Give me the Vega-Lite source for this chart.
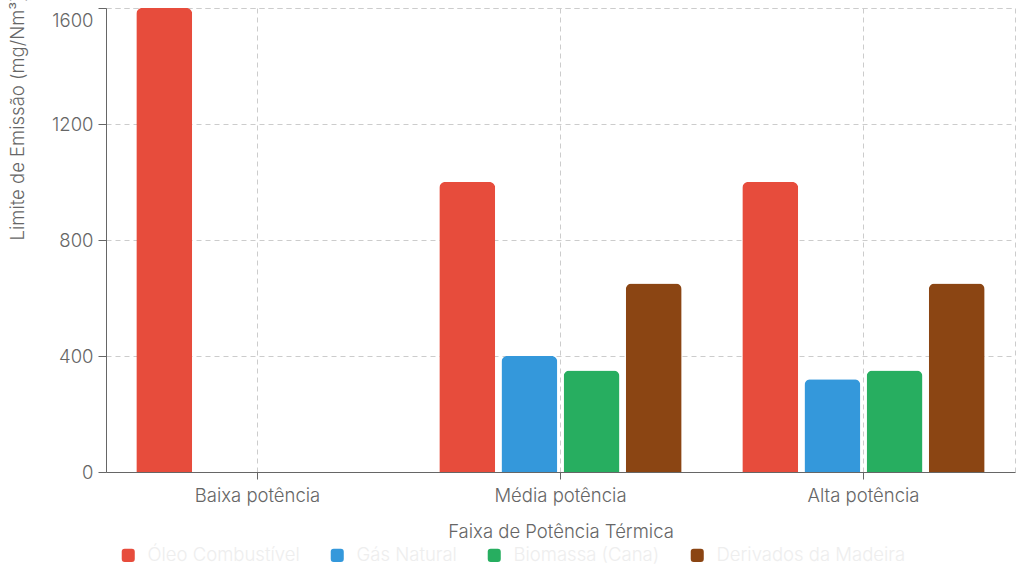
{
  "$schema": "https://vega.github.io/schema/vega-lite/v6.json",
  "autosize": {"type": "none"},
  "padding": {"left": 106, "top": 8, "right": 9, "bottom": 104},
  "width": 909,
  "height": 464,
  "data": {
    "values": [
      {"faixa": "Baixa potência", "combustivel": "Óleo Combustível", "limite": 1600},
      {"faixa": "Média potência", "combustivel": "Óleo Combustível", "limite": 1000},
      {"faixa": "Média potência", "combustivel": "Gás Natural", "limite": 400},
      {"faixa": "Média potência", "combustivel": "Biomassa (Cana)", "limite": 350},
      {"faixa": "Média potência", "combustivel": "Derivados da Madeira", "limite": 650},
      {"faixa": "Alta potência", "combustivel": "Óleo Combustível", "limite": 1000},
      {"faixa": "Alta potência", "combustivel": "Gás Natural", "limite": 320},
      {"faixa": "Alta potência", "combustivel": "Biomassa (Cana)", "limite": 350},
      {"faixa": "Alta potência", "combustivel": "Derivados da Madeira", "limite": 650}
    ]
  },
  "mark": {"type": "bar", "cornerRadiusEnd": 6},
  "encoding": {
    "x": {
      "field": "faixa",
      "type": "nominal",
      "sort": ["Baixa potência", "Média potência", "Alta potência"],
      "scale": {"paddingInner": 0.2, "paddingOuter": 0.1},
      "title": "Faixa de Potência Térmica",
      "axis": {
        "labelAngle": 0,
        "grid": true,
        "bandPosition": 0.5,
        "labelPadding": 7,
        "titlePadding": 18,
        "tickSize": 7
      }
    },
    "xOffset": {
      "field": "combustivel",
      "type": "nominal",
      "sort": ["Óleo Combustível", "Gás Natural", "Biomassa (Cana)", "Derivados da Madeira"],
      "scale": {"paddingInner": 0.1, "paddingOuter": 0}
    },
    "y": {
      "field": "limite",
      "type": "quantitative",
      "scale": {"domain": [0, 1600], "nice": false},
      "title": "Limite de Emissão (mg/Nm³)",
      "axis": {
        "values": [0, 400, 800, 1200, 1600],
        "format": "d",
        "tickSize": 8,
        "labelPadding": 5,
        "labelBaseline": {"condition": {"test": "datum.value >= 1600", "value": "top"}, "value": "middle"},
        "labelOffset": {"condition": {"test": "datum.value >= 1600", "value": 3}, "value": 0},
        "titleAngle": 270,
        "titleAlign": "left",
        "titleBaseline": "middle",
        "titleX": -89,
        "titleY": 232
      }
    },
    "color": {
      "field": "combustivel",
      "type": "nominal",
      "sort": ["Óleo Combustível", "Gás Natural", "Biomassa (Cana)", "Derivados da Madeira"],
      "scale": {
        "domain": ["Óleo Combustível", "Gás Natural", "Biomassa (Cana)", "Derivados da Madeira"],
        "range": ["#e74c3c", "#3498db", "#27ae60", "#8b4513"]
      },
      "legend": {
        "title": null,
        "orient": "none",
        "direction": "horizontal",
        "legendX": 13,
        "legendY": 538,
        "symbolType": "M -1 -0.55 Q -1 -1 -0.55 -1 L 0.55 -1 Q 1 -1 1 -0.55 L 1 0.55 Q 1 1 0.55 1 L -0.55 1 Q -1 1 -1 0.55 Z",
        "symbolSize": 170,
        "symbolStrokeWidth": 0,
        "labelColor": "#eeeeee",
        "labelFontSize": 18.5,
        "labelLimit": 0,
        "labelOffset": 10,
        "columnPadding": 28
      }
    }
  },
  "config": {
    "font": "Inter",
    "view": {"stroke": "#cccccc", "strokeDash": [5, 4]},
    "axis": {
      "labelFontSize": 18.5,
      "labelColor": "#666666",
      "labelFontWeight": 300,
      "titleFontSize": 18.5,
      "titleColor": "#666666",
      "titleFontWeight": 300,
      "gridColor": "#cccccc",
      "gridDash": [5, 4],
      "domainColor": "#666666",
      "tickColor": "#666666"
    },
    "legend": {"labelFontWeight": 300},
    "axisY": {"grid": true}
  }
}
